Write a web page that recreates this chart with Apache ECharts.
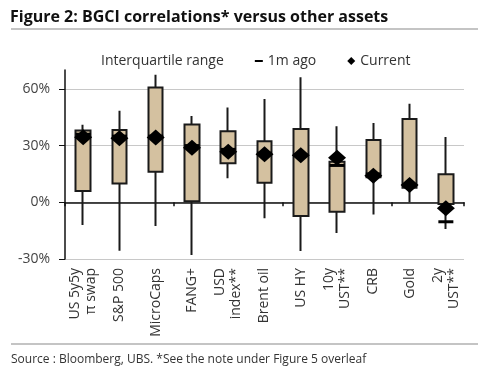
<!DOCTYPE html>
<html>
<head>
<meta charset="utf-8">
<script src="https://cdn.jsdelivr.net/npm/echarts@6/dist/echarts.min.js"></script>
<style>
  html, body { margin: 0; padding: 0; background: #fff; }
  #chart { width: 500px; height: 376px; }
</style>
</head>
<body>
<div id="chart"></div>
<script>
// correlations in %
var categories = ['US 5y5y\nπ swap', 'S&P 500', 'MicroCaps', 'FANG+', 'USD\nindex**', 'Brent oil', 'US HY', '10y\nUST**', 'CRB', 'Gold', '2y\nUST**'];
var whiskerLow  = [-12, -25.6, -12.6, -27.9, 12.7, -8.5, -25.8, -16.3, -6.4, 0, -14.1];
var q1          = [6, 9.9, 16.2, 0.5, 20.6, 10.4, -7.3, -5, 13.2, 7.7, -0.9];
var q3          = [38, 38.3, 60.7, 41.1, 37.6, 32.3, 38.8, 21.5, 33, 44.1, 14.8];
var whiskerHigh = [41, 48.4, 67.5, 45.7, 50.2, 54.7, 66.2, 40.3, 42, 52.1, 34.6];
var current     = [34.4, 33.9, 34.3, 28.9, 26.8, 25.4, 24.9, 23.6, 14.1, 9.2, -3.2];
var monthAgo    = [36, 35, 35, 30, 28, 26, 25, 19.5, 15, 9, -10.3];
var yTicks = [-30, 0, 30, 60];

var font = "'Open Sans', 'Noto Sans', sans-serif";

// candlestick: [open, close, lowest, highest]
var boxData = [];
for (var i = 0; i < categories.length; i++) {
  boxData.push([q1[i], q3[i], whiskerLow[i], whiskerHigh[i]]);
}

var myChart = echarts.init(document.getElementById('chart'));

var option = {
  animation: false,
  backgroundColor: '#fff',
  textStyle: { fontFamily: font },
  title: {
    text: 'Figure 2: BGCI correlations* versus other assets',
    left: 10,
    top: 9,
    padding: 0,
    textStyle: { fontFamily: font, fontSize: 16, fontWeight: 'bold', color: '#111' }
  },
  graphic: [
    { type: 'rect', shape: { x: 11, y: 28, width: 467, height: 2 }, style: { fill: '#c4c4c4' } },
    { type: 'rect', shape: { x: 11, y: 343, width: 467, height: 2 }, style: { fill: '#c4c4c4' } },
    {
      type: 'text', left: 11, top: 354,
      style: { text: 'Source : Bloomberg, UBS. *See the note under Figure 5 overleaf', font: '12px ' + font, fill: '#333' }
    }
  ],
  legend: {
    left: 83,
    top: 49,
    itemWidth: 8,
    itemHeight: 8,
    itemGap: 31,
    textStyle: { fontSize: 14, color: '#333' },
    data: [
      { name: 'Interquartile range', icon: 'none' },
      { name: '1m ago', icon: 'path://M0,0h8v2h-8z' },
      { name: 'Current', icon: 'diamond' }
    ]
  },
  grid: { left: 65, right: 36, top: 70, bottom: 117 },
  xAxis: [
    {
      type: 'category',
      data: categories,
      boundaryGap: true,
      axisLine: { onZero: true, lineStyle: { color: '#111', width: 1.5 } },
      axisTick: { show: true, length: 4, lineStyle: { color: '#111', width: 1.5 } },
      axisLabel: { show: false },
      splitLine: { show: false }
    },
    {
      type: 'category',
      data: categories,
      position: 'bottom',
      axisLine: { show: false, onZero: false },
      axisTick: { show: false },
      axisLabel: { rotate: 90, margin: 9, fontSize: 14, lineHeight: 16, color: '#333', fontFamily: font },
      splitLine: { show: false }
    }
  ],
  yAxis: {
    type: 'value',
    min: -30,
    max: 70,
    interval: 30,
    axisLine: { show: true, lineStyle: { color: '#111', width: 1.5 } },
    axisTick: { show: true, length: 6, customValues: yTicks, lineStyle: { color: '#111' } },
    axisLabel: { customValues: yTicks, margin: 15, fontSize: 14, color: '#444', formatter: '{value}%' },
    splitLine: { show: true, lineStyle: { color: '#c8c8c8', width: 1 } }
  },
  series: [
    {
      name: 'Interquartile range',
      type: 'candlestick',
      barWidth: 15,
      itemStyle: {
        color: '#d4c1a0', color0: '#d4c1a0',
        borderColor: '#1a1a1a', borderColor0: '#1a1a1a',
        borderWidth: 2
      },
      data: boxData
    },
    {
      name: '1m ago',
      type: 'scatter',
      symbol: 'rect',
      symbolSize: [15, 3],
      itemStyle: { color: '#000', opacity: 1 },
      data: monthAgo
    },
    {
      name: 'Current',
      type: 'scatter',
      symbol: 'diamond',
      symbolSize: [18, 16],
      itemStyle: { color: '#000', opacity: 1 },
      data: current
    }
  ]
};

myChart.setOption(option);
</script>
</body>
</html>
